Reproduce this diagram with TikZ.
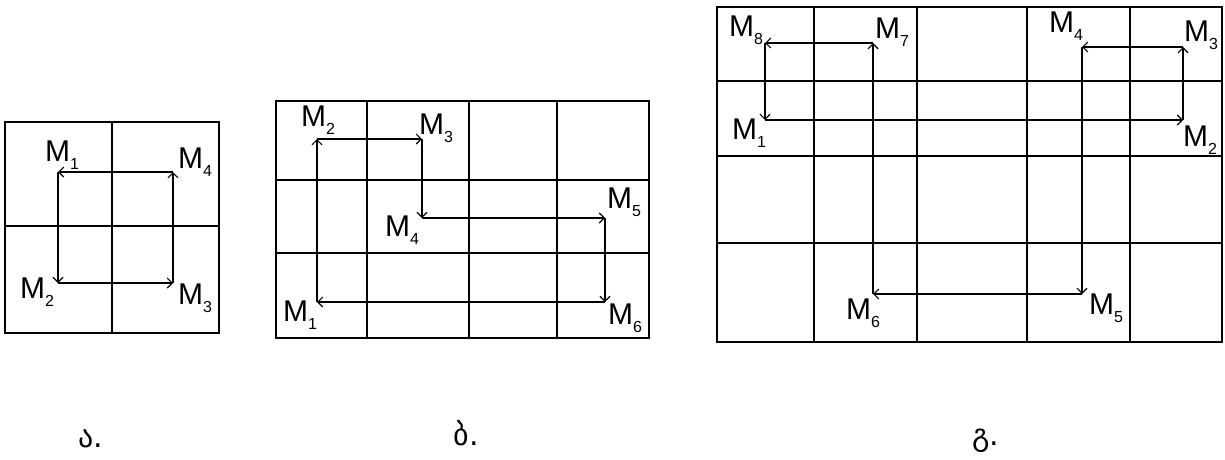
\documentclass[tikz,border=0pt]{standalone}
\usepackage{fontspec}
\setmainfont{Liberation Sans}
\newfontfamily\geofont{DejaVu Sans}
\usetikzlibrary{arrows.meta}

\newcommand{\mlab}[1]{M\raisebox{-0.28em}{\fontsize{16}{16}\selectfont #1}}

\begin{document}
\begin{tikzpicture}[x=1pt, y=-1pt,
  cell/.style={line width=1.4pt},
  route/.style={-{Straight Barb[length=5pt,width=10pt]}, line width=1.1pt},
  lbl/.style={font=\fontsize{30}{30}\selectfont, inner sep=0pt},
  caption/.style={font=\geofont\fontsize{30}{30}\selectfont, inner sep=0pt, anchor=base}
]
  \useasboundingbox (0,0) rectangle (1225,459);

  % grid a
  \draw[cell] (5,122) rectangle (219,333);
  \draw[cell] (112,122) -- (112,333);
  \draw[cell] (5,226) -- (219,226);

  \coordinate (a1) at (58,172);
  \coordinate (a2) at (58,283);
  \coordinate (a3) at (173,283);
  \coordinate (a4) at (173,172);
  \draw[route] (a1) -- (a2);
  \draw[route] (a2) -- (a3);
  \draw[route] (a3) -- (a4);
  \draw[route] (a4) -- (a1);

  \node[lbl] (la1) at (62,155) {\mlab{1}};
  \node[lbl] (la2) at (37,292) {\mlab{2}};
  \node[lbl] (la3) at (195,298) {\mlab{3}};
  \node[lbl] (la4) at (195,162) {\mlab{4}};

  % grid b
  \draw[cell] (276,101) rectangle (649,338);
  \foreach \x in {367,469,557}
    \draw[cell] (\x,101) -- (\x,338);
  \foreach \y in {180,253}
    \draw[cell] (276,\y) -- (649,\y);

  \coordinate (b1) at (317,302);
  \coordinate (b2) at (317,139);
  \coordinate (b3) at (422,139);
  \coordinate (b4) at (422,218);
  \coordinate (b5) at (605,218);
  \coordinate (b6) at (605,302);
  \draw[route] (b1) -- (b2);
  \draw[route] (b2) -- (b3);
  \draw[route] (b3) -- (b4);
  \draw[route] (b4) -- (b5);
  \draw[route] (b5) -- (b6);
  \draw[route] (b6) -- (b1);

  \node[lbl] (lb1) at (300,315) {\mlab{1}};
  \node[lbl] (lb2) at (318,120) {\mlab{2}};
  \node[lbl] (lb3) at (436,128) {\mlab{3}};
  \node[lbl] (lb4) at (402,230) {\mlab{4}};
  \node[lbl] (lb5) at (624,202) {\mlab{5}};
  \node[lbl] (lb6) at (625,318) {\mlab{6}};

  % grid c
  \draw[cell] (717,7) rectangle (1222,342);
  \foreach \x in {814,917,1027,1130}
    \draw[cell] (\x,7) -- (\x,342);
  \foreach \y in {81,156,243}
    \draw[cell] (717,\y) -- (1222,\y);

  \coordinate (c1) at (765,120);
  \coordinate (c2) at (1183,120);
  \coordinate (c3) at (1183,47);
  \coordinate (c4) at (1082,47);
  \coordinate (c5) at (1082,294);
  \coordinate (c6) at (873,294);
  \coordinate (c7) at (873,43);
  \coordinate (c8) at (765,43);
  \draw[route] (c1) -- (c2);
  \draw[route] (c2) -- (c3);
  \draw[route] (c3) -- (c4);
  \draw[route] (c4) -- (c5);
  \draw[route] (c5) -- (c6);
  \draw[route] (c6) -- (c7);
  \draw[route] (c7) -- (c8);
  \draw[route] (c8) -- (c1);

  \node[lbl] (lc1) at (749,133) {\mlab{1}};
  \node[lbl] (lc2) at (1200,140) {\mlab{2}};
  \node[lbl] (lc3) at (1201,35) {\mlab{3}};
  \node[lbl] (lc4) at (1066,26) {\mlab{4}};
  \node[lbl] (lc5) at (1106,308) {\mlab{5}};
  \node[lbl] (lc6) at (863,313) {\mlab{6}};
  \node[lbl] (lc7) at (892,32) {\mlab{7}};
  \node[lbl] (lc8) at (746,30) {\mlab{8}};

  % captions
  \node[caption] (capa) at (91,447) {ა.};
  \node[caption] (capb) at (466,445) {ბ.};
  \node[caption] (capc) at (986,445) {გ.};
\end{tikzpicture}
\end{document}
